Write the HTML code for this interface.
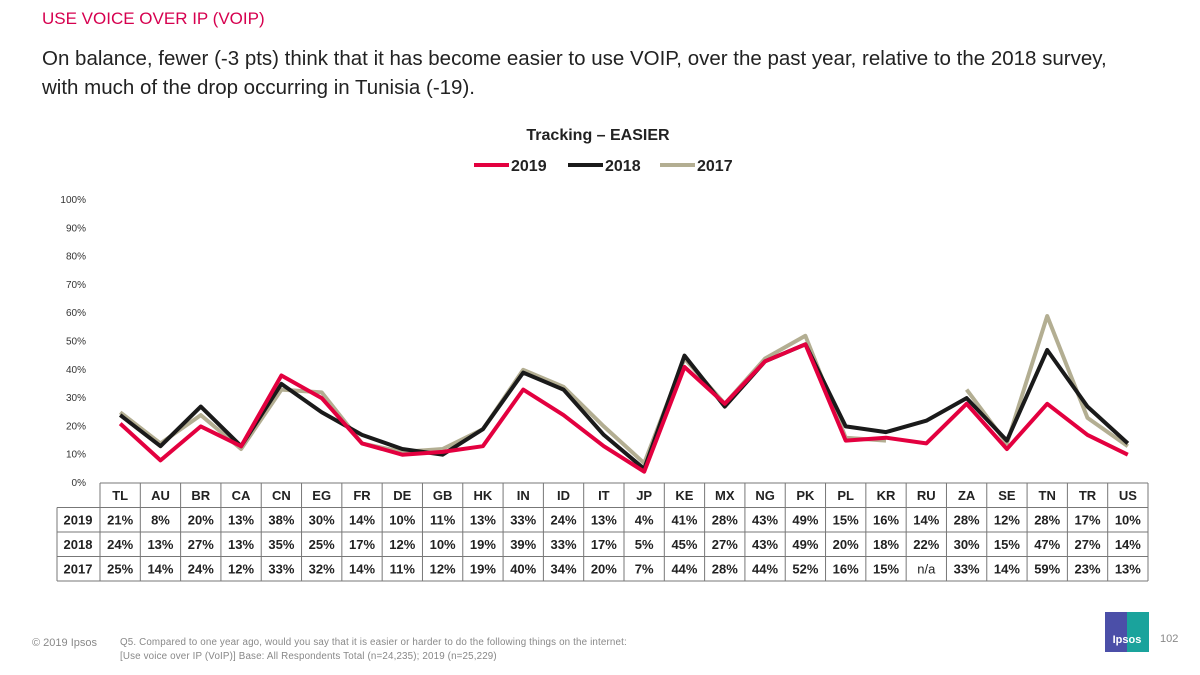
<!DOCTYPE html>
<html><head><meta charset="utf-8"><style>
body{margin:0;width:1200px;height:675px;background:#fff;overflow:hidden;font-family:"Liberation Sans",Calibri,sans-serif;position:relative}
.abs{position:absolute}
</style></head><body>
<div class="abs" style="left:42px;top:9px;font-size:17px;color:#d6004f">USE VOICE OVER IP (VOIP)</div>
<div class="abs" style="left:42px;top:44px;width:1150px;font-size:20.5px;line-height:29px;color:#222;white-space:nowrap">On balance, fewer (-3 pts) think that it has become easier to use VOIP, over the past year, relative to the 2018 survey,<br>with much of the drop occurring in Tunisia (-19).</div>
<svg class="abs" style="left:0;top:0" width="1200" height="675" id="chart">
<text x="598" y="140" text-anchor="middle" font-size="16" font-weight="bold" fill="#222">Tracking – EASIER</text>
<g id="legend"></g>
<g id="yaxis"></g>
<g id="lines"></g>
<g id="table"></g>
</svg>
<div class="abs" style="left:32px;top:637px;font-size:11px;color:#888">© 2019 Ipsos</div>
<div class="abs" style="left:120px;top:636px;font-size:9.8px;line-height:14px;color:#888;letter-spacing:0.15px">Q5. Compared to one year ago, would you say that it is easier or harder to do the following things on the internet:<br>[Use voice over IP (VoIP)] Base: All Respondents Total (n=24,235); 2019 (n=25,229)</div>
<div class="abs" style="left:1105px;top:612px;width:44px;height:40px;background:linear-gradient(90deg,#4b4fa8 50%,#1aa39c 50%);color:#fff;font-size:11px;font-weight:bold;text-align:center;line-height:56px">Ipsos</div>
<div class="abs" style="left:1160px;top:633px;font-size:11px;color:#888">102</div>
<script>
const categories=["TL","AU","BR","CA","CN","EG","FR","DE","GB","HK","IN","ID","IT","JP","KE","MX","NG","PK","PL","KR","RU","ZA","SE","TN","TR","US"];
const v2019=[21,8,20,13,38,30,14,10,11,13,33,24,13,4,41,28,43,49,15,16,14,28,12,28,17,10];
const v2018=[24,13,27,13,35,25,17,12,10,19,39,33,17,5,45,27,43,49,20,18,22,30,15,47,27,14];
const v2017=[25,14,24,12,33,32,14,11,12,19,40,34,20,7,44,28,44,52,16,15,null,33,14,59,23,13];
const yTicks=[0,10,20,30,40,50,60,70,80,90,100];
const seriesNames=["2019","2018","2017"];
const colors=["#e3003f","#1a1a1a","#b3ae92"];
const NS="http://www.w3.org/2000/svg";
const x0=100,x1=1148,y0=483,y100=200,n=categories.length,cw=(x1-x0)/n;
const X=i=>x0+cw*(i+0.5), Y=v=>y0-(v/100)*(y0-y100);
function mk(t,a,p){const e=document.createElementNS(NS,t);for(const k in a)e.setAttribute(k,a[k]);p.appendChild(e);return e;}
const ya=document.getElementById('yaxis');
yTicks.forEach(t=>{const e=mk('text',{x:86,y:Y(t)+3,'text-anchor':'end','font-size':10,fill:'#333'},ya);e.textContent=t+'%';

});
const lg=document.getElementById('legend');
[[474,"2019"],[568,"2018"],[660,"2017"]].forEach((p,i)=>{
const l=mk('line',{x1:p[0],x2:p[0]+35,y1:165,y2:165,stroke:colors[i],'stroke-width':4},lg);


const t=mk('text',{x:p[0]+37,y:171,'font-size':16,'font-weight':'bold',fill:'#222'},lg);t.textContent=seriesNames[i];

});
const lines=document.getElementById('lines');
[v2017,v2018,v2019].forEach((s,k)=>{const ci=2-k;let d='',pen=false;
s.forEach((v,i)=>{if(v==null){pen=false;return;}d+=(pen?'L':'M')+X(i).toFixed(1)+' '+Y(v).toFixed(1);pen=true;});
const p=mk('path',{d:d,fill:'none',stroke:colors[ci],'stroke-width':4,'stroke-linejoin':'round'},lines);

});
const tb=document.getElementById('table');
const rh=24.5,rows=[v2019,v2018,v2017];
const st={stroke:'#777','stroke-width':1};
mk('line',Object.assign({x1:x0,x2:x1,y1:y0,y2:y0},st),tb);
for(let r=0;r<=3;r++){const y=y0+rh*(r+1);mk('line',Object.assign({x1:57,x2:x1,y1:y,y2:y},st),tb);}
mk('line',Object.assign({x1:57,x2:57,y1:y0+rh,y2:y0+rh*4},st),tb);
for(let i=0;i<=n;i++){const x=x0+cw*i;mk('line',Object.assign({x1:x,x2:x,y1:y0,y2:y0+rh*4},st),tb);}
categories.forEach((c,i)=>{const t=mk('text',{x:X(i),y:y0+17,'text-anchor':'middle','font-size':13,'font-weight':'bold',fill:'#222'},tb);t.textContent=c;

});
rows.forEach((s,r)=>{const y=y0+rh*(r+1)+17;
const h=mk('text',{x:78,y:y,'text-anchor':'middle','font-size':13,'font-weight':'bold',fill:'#222'},tb);h.textContent=seriesNames[r];


s.forEach((v,i)=>{const t=mk('text',{x:X(i),y:y,'text-anchor':'middle','font-size':13,'font-weight':v==null?'normal':'bold',fill:'#222'},tb);t.textContent=v==null?'n/a':v+'%';

});});
</script>
</body></html>
